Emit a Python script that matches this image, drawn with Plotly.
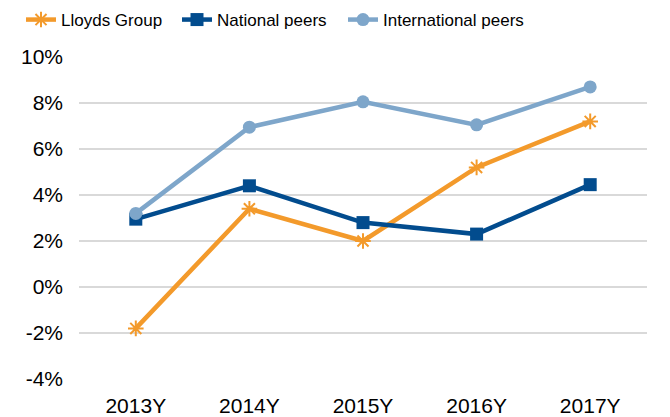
import plotly.graph_objects as go

years = ["2013Y", "2014Y", "2015Y", "2016Y", "2017Y"]
lloyds = [-1.8, 3.4, 2.0, 5.2, 7.2]
national = [2.95, 4.4, 2.8, 2.3, 4.45]
international = [3.2, 6.95, 8.05, 7.05, 8.7]
y_ticks = [-4, -2, 0, 2, 4, 6, 8, 10]
y_tick_labels = ["-4%", "-2%", "0%", "2%", "4%", "6%", "8%", "10%"]

fig = go.Figure()
fig.add_trace(go.Scatter(x=years, y=lloyds, name="Lloyds Group", mode="lines+markers",
                         legend="legend",
                         line=dict(color="#F39A2B", width=4.5),
                         marker=dict(symbol="asterisk-open", size=13, color="#F39A2B",
                                     line=dict(color="#F39A2B", width=2))))
fig.add_trace(go.Scatter(x=years, y=national, name="National peers", mode="lines+markers",
                         legend="legend2",
                         line=dict(color="#024C8E", width=4.5),
                         marker=dict(symbol="square", size=13, color="#024C8E")))
fig.add_trace(go.Scatter(x=years, y=international, name="International peers", mode="lines+markers",
                         legend="legend3",
                         line=dict(color="#7EA6CA", width=4.5),
                         marker=dict(symbol="circle", size=13, color="#7EA6CA")))

def leg(xpx):
    return dict(orientation="h", xref="container", yref="container",
                x=xpx / 670, y=0.952, xanchor="left", yanchor="middle",
                font=dict(size=17), bgcolor="rgba(0,0,0,0)")

fig.update_layout(
    width=670, height=417,
    margin=dict(l=79, r=23, t=57, b=38, autoexpand=False),
    paper_bgcolor="white", plot_bgcolor="white",
    font=dict(family="Liberation Sans, Arial, sans-serif", size=21, color="#000"),
    legend=leg(21), legend2=leg(177), legend3=leg(343),
    showlegend=True,
)
fig.update_xaxes(type="category", range=[-0.5, 4.5], showgrid=False, showline=False,
                 ticks="", tickfont=dict(size=21), ticklabelstandoff=12, automargin=False)
fig.update_yaxes(range=[-4, 10], tickvals=y_ticks, ticktext=y_tick_labels, showgrid=True,
                 gridcolor="#D9D9D9", gridwidth=2, zeroline=False, showline=False,
                 ticks="", tickfont=dict(size=21), ticklabelstandoff=15, automargin=False)

fig.write_html("out.html", config={"displayModeBar": False},
               post_script="document.body.style.margin='0';")
